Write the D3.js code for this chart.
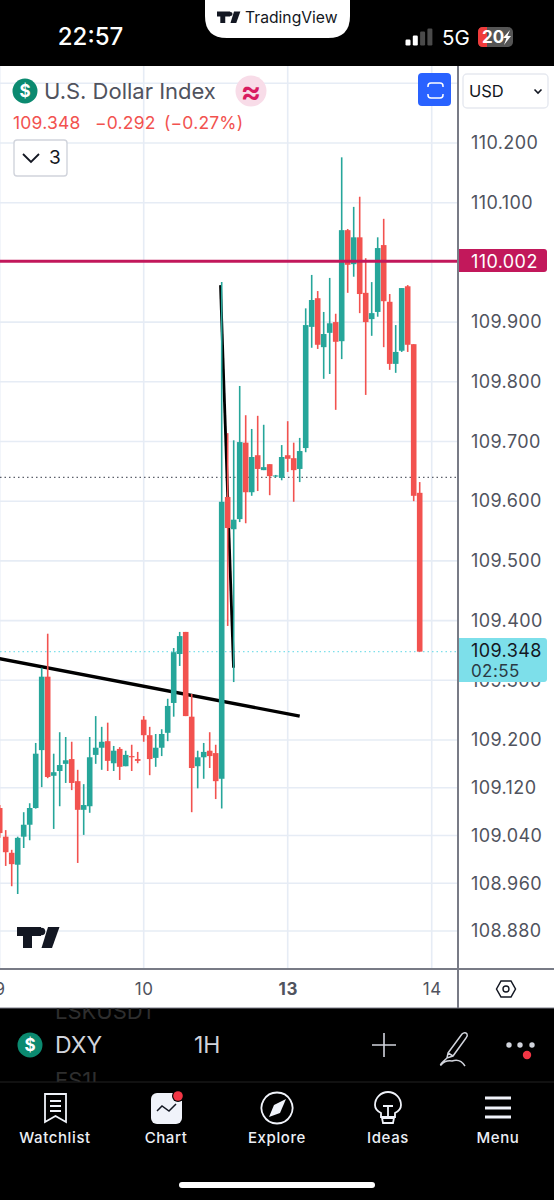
<!DOCTYPE html>
<html>
<head>
<meta charset="utf-8">
<script src="https://cdn.jsdelivr.net/npm/d3@7"></script>
<style>
  html, body { margin: 0; padding: 0; background: #000; }
  svg { display: block; }
  text { font-family: Inter, "Noto Sans", sans-serif; }
  .domain { display: none; }
</style>
</head>
<body>
<svg id="mainsvg" width="554" height="1200"></svg>
<script>
// candles, one per hour slot, index 0 is the first bar of day 10
const firstIndex = -24;
const opens  = [109.086,109.038,109.011,108.991,109.038,109.058,109.086,109.183,109.306,109.140,109.148,109.160,109.168,109.131,109.083,109.089,109.175,109.187,109.198,109.161,109.185,109.156,109.173,109.168,
                109.234,109.208,109.170,109.187,109.212,109.262,109.344,109.381,109.239,109.156,109.171,109.182,109.178,109.135,109.607,109.553,109.570,109.698,109.615,109.677,109.652,109.662,109.642,109.639,
                109.677,109.672,109.654,109.689,109.892,109.940,109.858,109.882,109.900,109.868,110.054,109.997,110.042,109.949,109.905,109.917,110.029,109.934,109.830,109.852,109.960,109.863,109.614];
const highs  = [109.091,109.049,109.016,109.038,109.079,109.094,109.195,109.321,109.378,109.177,109.213,109.205,109.197,109.150,109.126,109.205,109.240,109.222,109.229,109.190,109.188,109.182,109.192,109.180,
                109.240,109.222,109.210,109.218,109.269,109.354,109.381,109.381,109.277,109.182,109.195,109.213,109.192,109.967,109.714,109.702,109.793,109.744,109.721,109.743,109.728,109.662,109.644,109.694,
                109.734,109.698,109.706,109.923,109.979,109.952,109.917,109.974,109.914,110.176,110.056,110.093,110.110,110.007,109.967,110.042,110.073,109.947,109.895,109.957,109.962,109.863,109.632];
const lows   = [109.036,108.989,108.955,108.942,109.019,109.032,109.085,109.121,109.136,109.051,109.089,109.128,109.116,108.994,109.041,109.078,109.160,109.150,109.148,109.148,109.133,109.156,109.148,109.161,
                109.197,109.141,109.155,109.173,109.198,109.239,109.324,109.240,109.079,109.119,109.135,109.153,109.101,109.085,109.391,109.297,109.565,109.563,109.609,109.617,109.652,109.610,109.640,109.635,
                109.649,109.599,109.632,109.682,109.857,109.855,109.805,109.813,109.753,109.838,109.949,109.976,109.915,109.778,109.877,109.909,109.858,109.820,109.815,109.850,109.850,109.600,109.348];
const closes = [109.044,109.012,108.992,109.036,109.058,109.086,109.177,109.306,109.138,109.146,109.158,109.166,109.128,109.083,109.091,109.171,109.187,109.197,109.165,109.182,109.155,109.175,109.171,109.165,
                109.208,109.168,109.187,109.210,109.257,109.347,109.374,109.240,109.153,109.171,109.180,109.173,109.131,109.599,109.555,109.569,109.699,109.615,109.674,109.654,109.657,109.642,109.643,109.674,
                109.671,109.652,109.684,109.895,109.937,109.862,109.880,109.898,109.867,110.054,109.996,110.042,109.947,109.900,109.915,110.024,109.935,109.830,109.850,109.957,109.862,109.609,109.348];

const priceTicks = [110.2,110.1,109.9,109.8,109.7,109.6,109.5,109.4,109.3,109.2,109.12,109.04,108.96,108.88];
const gridOnlyTicks = [110.3];
const dayIndexes = [-24,0,24,48];
const dayLabels = ['9','10','13','14'];

const lastPrice = 109.348;
const prevClose = 109.640;
const alertPrice = 110.002;
const trendA = [[-24,109.336],[26,109.240]];
const trendB = [[12.8,109.962],[14.97,109.321]];

const green = '#26a69a', red = '#f2524f';
const gridColor = '#e6ecf5';
const textColor = '#50535e';

const svg = d3.select('#mainsvg');
const paneRight = 458, paneTop = 66, paneBottom = 969, timeBottom = 1008;

const xScale = d3.scaleLinear().domain([-24,46]).range([-0.3,419.7]);
const yScale = d3.scaleLinear().domain([110.2,108.88]).range([143,931]);

// white app area
svg.append('rect').attr('x',0).attr('y',paneTop).attr('width',554).attr('height',timeBottom-paneTop).attr('fill','#fff');

svg.append('defs').append('clipPath').attr('id','pane')
  .append('rect').attr('x',0).attr('y',paneTop).attr('width',paneRight).attr('height',paneBottom-paneTop);
svg.append('defs').append('clipPath').attr('id','ghost')
  .append('rect').attr('x',0).attr('y',timeBottom).attr('width',554).attr('height',1082-timeBottom);

const pane = svg.append('g').attr('clip-path','url(#pane)');

// grid
pane.selectAll('.hgrid').data(priceTicks.concat(gridOnlyTicks)).join('line')
  .attr('x1',0).attr('x2',paneRight)
  .attr('y1',d=>yScale(d)).attr('y2',d=>yScale(d))
  .attr('stroke',gridColor).attr('stroke-width',1.6);
pane.selectAll('.vgrid').data(dayIndexes).join('line')
  .attr('x1',d=>xScale(d)).attr('x2',d=>xScale(d))
  .attr('y1',paneTop).attr('y2',paneBottom)
  .attr('stroke',gridColor).attr('stroke-width',1.6);

// price lines
pane.append('line').attr('x1',0).attr('x2',paneRight)
  .attr('y1',yScale(prevClose)).attr('y2',yScale(prevClose))
  .attr('stroke','#5d606b').attr('stroke-width',1.2).attr('stroke-dasharray','1.5 3');
pane.append('line').attr('x1',0).attr('x2',paneRight)
  .attr('y1',yScale(lastPrice)).attr('y2',yScale(lastPrice))
  .attr('stroke','#7ddfea').attr('stroke-width',1.2).attr('stroke-dasharray','1.5 3');

// trend lines sit under the candles
const trendLine = d3.line().x(d=>xScale(d[0])).y(d=>yScale(d[1]));
pane.append('path').attr('d',trendLine(trendA)).attr('fill','none').attr('stroke','#000').attr('stroke-width',3.4);
pane.append('path').attr('d',trendLine(trendB)).attr('fill','none').attr('stroke','#000').attr('stroke-width',2.8);

// candles
const candles = opens.map((o,i)=>({i:firstIndex+i,o:o,h:highs[i],l:lows[i],c:closes[i]}));
const candleColor = d => d.c>=d.o ? green : red;
const bars = pane.selectAll('.candle').data(candles).join('g').attr('class','candle');
bars.append('line')
  .attr('x1',d=>xScale(d.i)).attr('x2',d=>xScale(d.i))
  .attr('y1',d=>yScale(d.h)).attr('y2',d=>yScale(d.l))
  .attr('stroke',candleColor).attr('stroke-width',1.6);
bars.append('rect')
  .attr('x',d=>xScale(d.i)-2.8).attr('width',5.6)
  .attr('y',d=>yScale(Math.max(d.o,d.c)))
  .attr('height',d=>Math.max(1,Math.abs(yScale(d.o)-yScale(d.c))))
  .attr('fill',candleColor);

// alert line
pane.append('line').attr('x1',0).attr('x2',paneRight)
  .attr('y1',yScale(alertPrice)).attr('y2',yScale(alertPrice))
  .attr('stroke','#c2185b').attr('stroke-width',3);

// tv logo on the pane
function tvLogo(g, color){
  g.append('path').attr('d','M0 0H24V9H15V21H6V9H0Z').attr('fill',color);
  g.append('circle').attr('cx',24.5).attr('cy',4.5).attr('r',3.8).attr('fill',color);
  g.append('path').attr('d','M31 0H42.5L35 21H24.5Z').attr('fill',color);
}
tvLogo(svg.append('g').attr('transform','translate(17,927)'),'#131722');

// price axis
const yAxis = d3.axisRight(yScale).tickValues(priceTicks).tickSize(0).tickPadding(0)
  .tickFormat(d3.format('.3f'));
const yAxisG = svg.append('g').attr('transform','translate(471,0)').call(yAxis);
yAxisG.selectAll('text').attr('fill',textColor).style('font-size','18px').style('letter-spacing','0.4px');

// time axis
const xAxis = d3.axisBottom(xScale).tickValues(dayIndexes).tickSize(0).tickPadding(0)
  .tickFormat((d,i)=>dayLabels[i]);
const xAxisG = svg.append('g').attr('transform','translate(0,983)').call(xAxis);
xAxisG.selectAll('text').attr('fill',textColor).style('font-size','17px').style('letter-spacing','0.6px')
  .style('font-weight',(d,i)=>dayLabels[i]==='13'?700:400);

// pane borders
svg.append('line').attr('x1',458).attr('x2',458).attr('y1',paneTop).attr('y2',timeBottom).attr('stroke','#787b86').attr('stroke-width',2);
svg.append('line').attr('x1',0).attr('x2',554).attr('y1',paneBottom).attr('y2',paneBottom).attr('stroke','#787b86').attr('stroke-width',2);
svg.append('line').attr('x1',0).attr('x2',554).attr('y1',timeBottom).attr('y2',timeBottom).attr('stroke','#787b86').attr('stroke-width',1);

// alert label
svg.append('path').attr('d','M459 249H544q3 0 3 3V269q0 3 -3 3H459Z').attr('fill','#c2185b');
svg.append('text').attr('x',471).attr('y',yScale(alertPrice)+6.5).attr('fill','#fff').style('font-size','18px').style('letter-spacing','0.4px').text(d3.format('.3f')(alertPrice));

// last price label
svg.append('path').attr('d','M459 638H544q3 0 3 3V679q0 3 -3 3H459Z').attr('fill','#7ddfea');
svg.append('text').attr('x',471).attr('y',657).attr('fill','#131722').style('font-size','18px').style('letter-spacing','0.4px').text(d3.format('.3f')(lastPrice));
svg.append('text').attr('x',471).attr('y',677).attr('fill','#2a3a44').style('font-size','17px').style('letter-spacing','0.4px').text('02:55');

// settings hexagon
svg.append('path').attr('d','M496.5 989L501 981H511L515.5 989L511 997H501Z').attr('fill','none').attr('stroke','#131722').attr('stroke-width',1.5);
svg.append('circle').attr('cx',506).attr('cy',989).attr('r',3).attr('fill','none').attr('stroke','#131722').attr('stroke-width',1.4);

// header
function dollar(cx,cy,r,size){
  svg.append('circle').attr('cx',cx).attr('cy',cy).attr('r',r).attr('fill','#0b8a70');
  svg.append('text').attr('x',cx).attr('y',cy+size*0.36).attr('text-anchor','middle').attr('fill','#fff')
    .style('font-size',size+'px').style('font-weight',700).text('$');
}
dollar(25,91,12.5,17);
svg.append('text').attr('x',44).attr('y',99).attr('fill',textColor).style('font-size','22px').text('U.S. Dollar Index');
svg.append('circle').attr('cx',251).attr('cy',91).attr('r',15.5).attr('fill','#f8dce8');
svg.append('text').attr('x',251).attr('y',102).attr('text-anchor','middle').attr('fill','#d81b60').style('font-size','31px').style('font-weight',600).text('≈');

svg.append('text').attr('x',13).attr('y',129).attr('fill',red).style('font-size','17.5px').style('letter-spacing','0.2px').text('109.348');
svg.append('text').attr('x',95).attr('y',129).attr('fill',red).style('font-size','17.5px').style('letter-spacing','0.2px').text('−0.292');
svg.append('text').attr('x',164).attr('y',129).attr('fill',red).style('font-size','17.5px').style('letter-spacing','0.2px').text('(−0.27%)');

svg.append('rect').attr('x',14).attr('y',140).attr('width',53).attr('height',36).attr('rx',3).attr('fill','#fff').attr('stroke','#d1d4dc').attr('stroke-width',1.4);
svg.append('path').attr('d','M23 154L31 162L39 154').attr('fill','none').attr('stroke','#131722').attr('stroke-width',1.8);
svg.append('text').attr('x',49).attr('y',164).attr('fill','#131722').style('font-size','19px').text('3');

// fullscreen button
svg.append('rect').attr('x',418).attr('y',73).attr('width',33).attr('height',33).attr('rx',4).attr('fill','#2962ff');
svg.append('path').attr('d','M428 87V86q0 -3 3 -3H440q3 0 3 3V87M428 94V95q0 3 3 3H440q3 0 3 -3V94').attr('fill','none').attr('stroke','#fff').attr('stroke-width',1.5);

// currency select
svg.append('rect').attr('x',463).attr('y',74).attr('width',85).attr('height',34).attr('rx',4).attr('fill','#fff').attr('stroke','#e6e9f0').attr('stroke-width',1.4);
svg.append('text').attr('x',469).attr('y',97).attr('fill','#131722').style('font-size','16.5px').text('USD');
svg.append('path').attr('d','M534.5 89.5L538 93L541.5 89.5').attr('fill','none').attr('stroke','#131722').attr('stroke-width',1.6);

// status bar
svg.append('rect').attr('x',0).attr('y',0).attr('width',554).attr('height',paneTop).attr('fill','#000');
svg.append('path').attr('d','M205 0H350V16Q350 38 328 38H227Q205 38 205 16Z').attr('fill','#fff');
const topLogo = svg.append('g').attr('transform','translate(217,11.5) scale(0.55)');
tvLogo(topLogo,'#131722');
svg.append('text').attr('x',245).attr('y',23).attr('fill','#131722').style('font-size','15.7px').style('font-weight',400).text('TradingView');
svg.append('text').attr('x',90.5).attr('y',45).attr('text-anchor','middle').attr('fill','#fff').style('font-size','24px').style('font-weight',500).text('22:57');

const signalHeights = [6,10,14,17];
svg.selectAll('.signal').data(signalHeights).join('rect')
  .attr('x',(d,i)=>405.5+i*7.3).attr('y',d=>45.5-d).attr('width',5).attr('height',d=>d).attr('rx',1.2)
  .attr('fill',(d,i)=>i<2?'#fff':'#4a4a4a');
svg.append('text').attr('x',442).attr('y',44.5).attr('fill','#fff').style('font-size','20.5px').text('5G');
svg.append('rect').attr('x',478).attr('y',27).attr('width',35).attr('height',20).attr('rx',5).attr('fill','#555');
svg.append('path').attr('d','M483 27H487V47H483Q478 47 478 42V32Q478 27 483 27Z').attr('fill','#ef3b3b');
svg.append('text').attr('x',482).attr('y',43).attr('fill','#fff').style('font-size','17px').style('font-weight',700).text('20');
svg.append('path').attr('d','M510 30L503 38H506.5L504 45L511 36H507.5Z').attr('fill','#fff');

// symbol bar
const ghost = svg.append('g').attr('clip-path','url(#ghost)');
ghost.append('text').attr('x',55).attr('y',1019).attr('fill','#2e2e2e').style('font-size','22px').text('LSKUSD1');
ghost.append('text').attr('x',55).attr('y',1088).attr('fill','#2e2e2e').style('font-size','22px').text('ES1!');
dollar(30,1045,12.5,17);
svg.append('text').attr('x',55).attr('y',1053).attr('fill','#d1d4dc').style('font-size','23px').text('DXY');
svg.append('text').attr('x',194).attr('y',1053).attr('fill','#d1d4dc').style('font-size','23px').text('1H');
svg.append('path').attr('d','M372 1045H396M384 1033V1057').attr('stroke','#d1d4dc').attr('stroke-width',1.6);
svg.append('path').attr('d','M448 1053L462 1034Q464 1032 466 1033L467 1034Q468 1036 466 1038L453 1056L447 1058ZM448 1053L453 1056M447 1058Q439 1065 441 1065Q445 1060 452 1061Q460 1058 465 1066')
  .attr('fill','none').attr('stroke','#d1d4dc').attr('stroke-width',1.5);
svg.selectAll('.dot').data([509,520,532]).join('circle').attr('cx',d=>d).attr('cy',1045).attr('r',2.7).attr('fill','#d1d4dc');
svg.append('circle').attr('cx',527).attr('cy',1055).attr('r',4.2).attr('fill','#f23645');
svg.append('line').attr('x1',0).attr('x2',554).attr('y1',1082).attr('y2',1082).attr('stroke','#222');

// bottom nav
const navLabels = ['Watchlist','Chart','Explore','Ideas','Menu'];
const navCenters = [55,166,277,388,498];
svg.selectAll('.nav').data(navLabels).join('text')
  .attr('x',(d,i)=>navCenters[i]).attr('y',1143).attr('text-anchor','middle')
  .attr('fill','#eceff5').style('font-size','15px').style('font-weight',500).style('letter-spacing','0.6px').text(d=>d);

const iconStroke = {fill:'none',stroke:'#f0f3fa','stroke-width':1.8};
function icon(d){
  const p = svg.append('path').attr('d',d);
  Object.entries(iconStroke).forEach(([k,v])=>p.attr(k,v));
  return p;
}
icon('M45 1094H66V1122L55.5 1116L45 1122ZM50 1101H61M50 1106H61M50 1111H61');
svg.append('rect').attr('x',151).attr('y',1093).attr('width',31).attr('height',31).attr('rx',6).attr('fill','#f0f3fa');
svg.append('path').attr('d','M157 1111L162 1106L169 1111L176 1104').attr('fill','none').attr('stroke','#131722').attr('stroke-width',1.5);
svg.append('circle').attr('cx',178).attr('cy',1096).attr('r',6).attr('fill','#000');
svg.append('circle').attr('cx',178).attr('cy',1096).attr('r',4.8).attr('fill','#f23645');
icon('M277 1092.5a15.5 15.5 0 1 0 0.01 0Z');
svg.append('path').attr('d','M286 1099L280 1113L269 1117L274 1105Z').attr('fill','#f0f3fa');
icon('M381 1117V1113Q375 1110 375 1105A13 13 0 1 1 401 1105Q401 1110 395 1113V1117ZM382 1118H394L393 1123H383ZM383 1106H393M388 1106V1116');
svg.selectAll('.menu').data([1098,1108,1117]).join('line')
  .attr('x1',485).attr('x2',511).attr('y1',d=>d).attr('y2',d=>d)
  .attr('stroke','#f0f3fa').attr('stroke-width',3);

// home indicator
svg.append('rect').attr('x',179).attr('y',1182).attr('width',196).attr('height',6).attr('rx',3).attr('fill','#fff');
</script>
</body>
</html>
